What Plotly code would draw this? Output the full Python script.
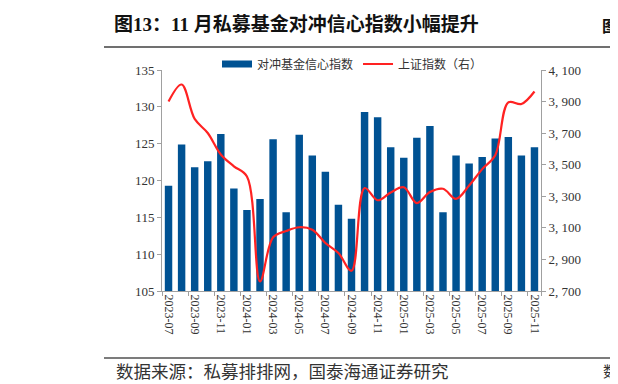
import plotly.graph_objects as go

months = ["2023-07", "2023-08", "2023-09", "2023-10", "2023-11", "2023-12",
          "2024-01", "2024-02", "2024-03", "2024-04", "2024-05", "2024-06",
          "2024-07", "2024-08", "2024-09", "2024-10", "2024-11", "2024-12",
          "2025-01", "2025-02", "2025-03", "2025-04", "2025-05", "2025-06",
          "2025-07", "2025-08", "2025-09", "2025-10", "2025-11"]

confidence = [119.3, 124.9, 121.8, 122.6, 126.3, 118.9,
              116.0, 117.5, 125.6, 115.7, 126.2, 123.4,
              121.2, 116.7, 114.8, 129.3, 128.6, 124.5,
              123.1, 125.8, 127.4, 115.7, 123.4, 122.3,
              123.2, 125.7, 125.9, 123.4, 124.5]

sse = [3900, 4008, 3790, 3701, 3565, 3490,
       3425, 2761, 3040, 3080, 3104, 3088,
       3004, 2941, 2828, 3352, 3275, 3324,
       3357, 3257, 3327, 3348, 3284, 3368,
       3472, 3560, 3895, 3885, 3964]

x_tick_labels = months[::2]
left_ticks = [105, 110, 115, 120, 125, 130, 135]
right_ticks = [2700, 2900, 3100, 3300, 3500, 3700, 3900, 4100]
right_tick_text = ["2, 700", "2, 900", "3, 100", "3, 300", "3, 500", "3, 700", "3, 900", "4, 100"]

title_text = "图13：11 月私募基金对冲信心指数小幅提升"
source_text = "数据来源：私募排排网，国泰海通证券研究"
bar_name = "对冲基金信心指数"
line_name = "上证指数（右）"

BLUE = "#005293"
RED = "#ff2222"
AXIS = "#a0a0a0"
TXT = "#333333"
SERIF = "Liberation Serif, Noto Sans CJK SC"
CJK = "Noto Sans CJK SC"

W, H = 618, 384
L, R, T, B = 154, 85, 62, 101
pw, ph = W - L - R, H - T - B


def px(x):
    return (x - L) / pw


def py(y):
    return (H - B - y) / ph


fig = go.Figure()
fig.add_trace(go.Bar(x=months, y=confidence, name=bar_name, marker_color=BLUE,
                     marker_line_width=0, showlegend=False, yaxis="y"))
fig.add_trace(go.Scatter(x=[None], y=[None], mode="lines", name=bar_name,
                         line=dict(color=BLUE, width=7), showlegend=True, hoverinfo="skip"))
fig.add_trace(go.Scatter(x=months, y=sse, name=line_name, mode="lines", yaxis="y2",
                         line=dict(color=RED, width=2.2, shape="spline", smoothing=1.0)))

fig.update_layout(
    width=W, height=H,
    margin=dict(l=L, r=R, t=T, b=B, pad=0),
    paper_bgcolor="white", plot_bgcolor="white",
    bargap=0.43,
    showlegend=True,
    legend=dict(orientation="h", x=px(209), xanchor="left", y=py(56), yanchor="middle",
                font=dict(family=CJK, size=12, color=TXT), itemwidth=30,
                bgcolor="rgba(0,0,0,0)", tracegroupgap=0),
    title=dict(text=title_text, x=106 / W, xanchor="left", y=1 - 16.5 / H, yanchor="middle",
               font=dict(family=SERIF, size=19, color="#111111", weight="bold")),
    xaxis=dict(type="category", tickmode="array", tickvals=x_tick_labels, ticktext=x_tick_labels,
               tickangle=90, tickson="boundaries", ticks="outside", ticklen=4, tickcolor=AXIS,
               showline=True, linecolor=AXIS, linewidth=1, showgrid=False, zeroline=False,
               tickfont=dict(family=SERIF, size=12, color=TXT), range=[-0.5, len(months) - 0.5]),
    yaxis=dict(range=[105, 135], tickvals=left_ticks, ticks="outside", ticklen=4, tickcolor=AXIS,
               showline=True, linecolor=AXIS, linewidth=1, showgrid=False, zeroline=False,
               tickfont=dict(family=SERIF, size=13, color=TXT)),
    yaxis2=dict(range=[2700, 4100], overlaying="y", side="right", tickvals=right_ticks,
                ticktext=right_tick_text, ticks="outside", ticklen=4, tickcolor=AXIS,
                showline=True, linecolor=AXIS, linewidth=1, showgrid=False, zeroline=False,
                tickfont=dict(family=SERIF, size=13, color=TXT)),
)

fig.add_shape(type="line", xref="paper", yref="paper", x0=px(96), x1=px(620), y0=py(39), y1=py(39),
              line=dict(color="#707070", width=2))
fig.add_shape(type="line", xref="paper", yref="paper", x0=px(96), x1=px(620), y0=py(350), y1=py(350),
              line=dict(color="#505050", width=1.5))

fig.add_annotation(text=source_text, xref="paper", yref="paper", x=px(106), y=py(362),
                   xanchor="left", yanchor="middle", showarrow=False,
                   font=dict(family=CJK, size=17.5, color=TXT))
fig.add_annotation(text="图", xref="paper", yref="paper", x=px(611), y=py(16.5),
                   xanchor="right", yanchor="middle", showarrow=False, borderpad=0,
                   font=dict(family=CJK, size=16, color="#111111", weight="bold"))
fig.add_annotation(text="数", xref="paper", yref="paper", x=px(611), y=py(362),
                   xanchor="right", yanchor="middle", showarrow=False, borderpad=0,
                   font=dict(family=CJK, size=15, color=TXT))

fig.write_html("out.html")
